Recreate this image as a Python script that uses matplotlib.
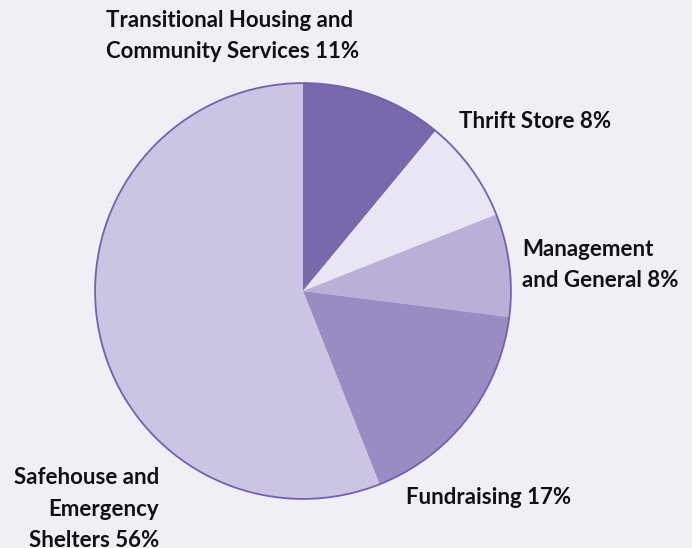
import matplotlib.pyplot as plt

# data
categories = ['Transitional Housing and\nCommunity Services', 'Thrift Store',
              'Management\nand General', 'Fundraising', 'Safehouse and\nEmergency\nShelters']
shares = [11, 8, 8, 17, 56]
colors = ['#7a68ad', '#e9e5f2', '#bab0d7', '#9a8cc3', '#cbc4e2']

W, H = 692, 548
bg = '#f0eff6'

fig = plt.figure(figsize=(W / 100, H / 100), dpi=100, facecolor=bg)

# pie placed by pixel centre / radius
cx, cy, r = 303, 291, 210
ax = fig.add_axes([(cx - r) / W, (H - cy - r) / H, 2 * r / W, 2 * r / H])
ax.set_facecolor(bg)
ax.pie(shares, colors=colors, startangle=90, counterclock=False,
       radius=1, wedgeprops=dict(linewidth=0))
circle = plt.Circle((0, 0), 1, fill=False, edgecolor='#7461ad', linewidth=1.3)
ax.add_patch(circle)
ax.set_xlim(-1.01, 1.01)
ax.set_ylim(-1.01, 1.01)
ax.set_aspect('equal')
ax.axis('off')

# labels (x, y in pixels, alignment)
label_pos = [(106, 36, 'left'), (459, 122, 'left'), (522, 265, 'left'),
             (406, 497, 'left'), (159, 509, 'right')]
font = dict(family='Lato', weight='bold', size=16, color='#111111', linespacing=1.6)
for cat, val, (x, y, ha) in zip(categories, shares, label_pos):
    fig.text(x / W, 1 - y / H, f'{cat} {val}%', ha=ha, va='center',
             multialignment=ha, **font)

fig.savefig('out.png', dpi=100, facecolor=bg)
